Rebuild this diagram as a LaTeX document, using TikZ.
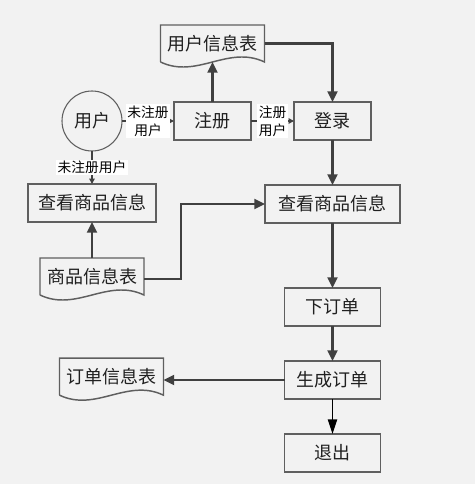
\documentclass[tikz,border=0pt]{standalone}
\usepackage{fontspec}
\setmainfont{Noto Sans CJK SC}
\usepackage{xcolor}
\definecolor{PageGray}{HTML}{F2F2F2}
\definecolor{EdgeGray}{HTML}{404040}
\definecolor{BoxGray}{HTML}{5F5F5F}
\definecolor{TextDark}{HTML}{202020}
\usetikzlibrary{arrows.meta,positioning,calc}

\begin{document}
\begin{tikzpicture}[node distance=30pt, every node/.style={font=\fontsize{13.5}{16}\selectfont, text=TextDark, align=center}, box/.style={draw=BoxGray, line width=1.1pt, fill=PageGray, minimum height=28.5pt, inner sep=2pt, outer sep=0pt}, doc/.style={minimum width=78pt, minimum height=27.75pt, inner sep=2pt, outer sep=0pt}, tag/.style={font=\fontsize{10.3}{13.5}\selectfont, text=black, fill=white, inner sep=1pt}, tagline/.style={-{Triangle[length=4pt,width=4pt]}, line width=1.2pt, EdgeGray}, flow/.style={-{Triangle[length=8pt,width=7.5pt]}, line width=1.6pt, EdgeGray}]
        \fill[PageGray] (0,0) rectangle (356.25pt,-363pt);
        \node[circle, draw=BoxGray, line width=0.8pt, minimum size=45pt, inner sep=0pt, outer sep=0pt] (user) at (69pt,-90.75pt) {用户};
        \node[box, minimum width=57.75pt, right=39pt of user] (reg) {注册};
        \node[box, minimum width=57.75pt, right=32.25pt of reg] (login) {登录};
        \node[doc, above=30pt of reg] (userdoc) {用户信息表};
        \node[box, minimum width=101.25pt, below=33.75pt of login] (viewR) {查看商品信息};
        \node[box, minimum width=96pt, below=24.75pt of user] (viewL) {查看商品信息};
        \node[doc, below=27pt of viewL] (goodsdoc) {商品信息表};
        \node[box, minimum width=72pt, below=48.75pt of viewR] (order) {下订单};
        \node[box, minimum width=72pt, below=26.25pt of order] (make) {生成订单};
        \node[box, minimum width=72pt, below=26.25pt of make] (quit) {退出};
        \node[doc, left=90.75pt of make, yshift=2.5pt] (orderdoc) {订单信息表};

        \foreach \d in {userdoc,goodsdoc,orderdoc}
            \draw[BoxGray, line width=1.1pt] (\d.south west) -- (\d.north west) -- (\d.north east) -- (\d.south east) .. controls +(-27.3pt,13pt) and +(27.3pt,-13pt) .. (\d.south west);

        \draw[tagline] (user) -- node[tag] {未注册\\用户} (reg);
        \draw[tagline] (reg) -- node[tag] {注册\\用户} (login);
        \draw[tagline] (user) -- node[tag] {未注册用户} (viewL);
        \draw[flow] (reg) -- (userdoc);
        \draw[flow] (userdoc.east) -| (login.north);
        \draw[flow] (login) -- (viewR);
        \draw[flow] (goodsdoc) -- (viewL);
        \draw[flow] ([yshift=-2pt]goodsdoc.east) -- ++(27.75pt,0) |- (viewR.west);
        \draw[flow] (viewR) -- (order);
        \draw[flow] (order) -- (make);
        \draw[flow] (make.west) -- (make.west -| orderdoc.east);
        \draw[-{Triangle[length=11pt,width=7pt]}, line width=1pt, black] (make) -- (quit);
    \end{tikzpicture}
\end{document}
